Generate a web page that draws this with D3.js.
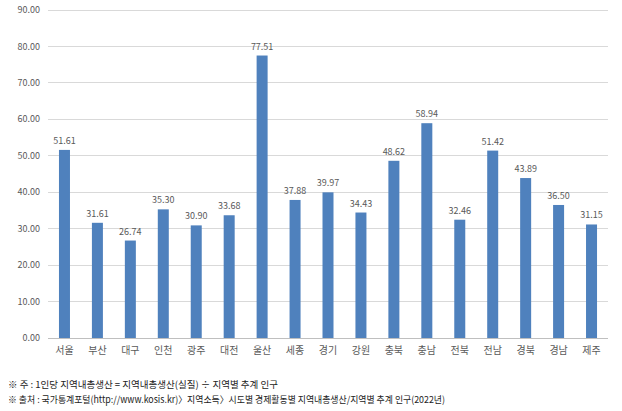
<!DOCTYPE html>
<html><head><meta charset="utf-8">
<script src="https://cdn.jsdelivr.net/npm/d3@7"></script>
<style>body{margin:0;background:#fff;} svg{display:block;font-family:"Noto Sans CJK KR","Noto Sans",sans-serif;}</style>
</head><body>
<svg id="c" width="622" height="411"></svg>
<script>
(function(){
const categories = ["서울","부산","대구","인천","광주","대전","울산","세종","경기","강원","충북","충남","전북","전남","경북","경남","제주"];
const values = [51.61,31.61,26.74,35.30,30.90,33.68,77.51,37.88,39.97,34.43,48.62,58.94,32.46,51.42,43.89,36.50,31.15];
const yTicks = [0,10,20,30,40,50,60,70,80,90];
const notes = ["※ 주 : 1인당 지역내총생산 = 지역내총생산(실질) ÷ 지역별 추계 인구",
  "※ 출처 : 국가통계포털(http://www.kosis.kr)〉지역소득〉시도별 경제활동별 지역내총생산/지역별 추계 인구(2022년)"];
const noteWidths = [270, 437];

const svg = d3.select("#c");
const mLeft = 48, mRight = 608, mTop = 10, mBottom = 338;
const x = d3.scaleBand().domain(categories).range([mLeft, mRight]);
const y = d3.scaleLinear().domain([0, 90]).range([mBottom, mTop]);

svg.append("g").selectAll("line").data(yTicks.filter(d=>d>0)).join("line")
  .attr("x1", mLeft).attr("x2", mRight).attr("y1", d=>y(d)).attr("y2", d=>y(d))
  .attr("stroke", "#d9d9d9").attr("stroke-width", 1).attr("shape-rendering","crispEdges");
svg.append("line").attr("x1", mLeft).attr("x2", mRight).attr("y1", y(0)).attr("y2", y(0))
  .attr("stroke", "#bfbfbf").attr("shape-rendering","crispEdges");

svg.append("g").selectAll("text").data(yTicks).join("text")
  .attr("x", 40).attr("y", d=>y(d)).attr("dy","0.35em").attr("text-anchor","end")
  .attr("font-size", 9).attr("fill", "#595959").text(d=>d.toFixed(2));

const bw = 11;
svg.append("g").selectAll("rect").data(values).join("rect")
  .attr("x", (d,i)=>x(categories[i]) + x.bandwidth()/2 - bw/2)
  .attr("width", bw).attr("y", d=>y(d)).attr("height", d=>y(0)-y(d))
  .attr("fill", "#4f81bd");

svg.append("g").selectAll("text").data(values).join("text")
  .attr("x", (d,i)=>x(categories[i]) + x.bandwidth()/2).attr("y", d=>y(d)-6)
  .attr("text-anchor","middle").attr("font-size", 9).attr("fill","#595959")
  .text(d=>d.toFixed(2));

svg.append("g").selectAll("text").data(categories).join("text")
  .attr("x", d=>x(d)+x.bandwidth()/2).attr("y", 354)
  .attr("text-anchor","middle").attr("font-size", 10).attr("fill","#595959").text(d=>d);

svg.append("g").selectAll("text").data(notes).join("text")
  .attr("x", 8).attr("y", (d,i)=>388 + i*15).attr("font-size", 9.5).attr("fill","#222")
  .attr("textLength", (d,i)=>noteWidths[i]).attr("lengthAdjust","spacingAndGlyphs")
  .text(d=>d);
})();
</script>
</body></html>
